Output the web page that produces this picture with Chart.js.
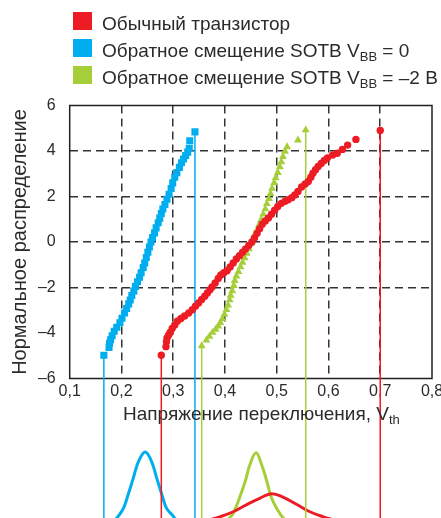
<!DOCTYPE html>
<html lang="ru">
<head>
<meta charset="utf-8">
<title>Нормальное распределение Vth</title>
<script src="https://cdn.jsdelivr.net/npm/chart.js@4.4.0/dist/chart.umd.min.js"></script>
<style>
  html, body { margin: 0; padding: 0; background: #fff; }
  #wrap { position: relative; width: 441px; height: 518px; overflow: hidden;
          font-family: "Liberation Sans", Arial, sans-serif; color: #2b2b2b; }
  canvas { position: absolute; left: 0; top: 0; }
  .sq { position: absolute; left: 73px; width: 19px; height: 18px; }
  .lg { position: absolute; left: 102px; font-size: 19px; line-height: 19px; white-space: nowrap; }
  .sub { font-size: 13px; position: relative; top: 4px; }
  #xtitle { position: absolute; left: 123px; top: 404px; font-size: 19px; line-height: 19px; white-space: nowrap; }
</style>
</head>
<body>
<div id="wrap">
  <canvas id="myChart" width="441" height="518"></canvas>
  <div class="sq" style="top:12px;background:#ed1c24"></div>
  <div class="lg" style="top:14px">Обычный транзистор</div>
  <div class="sq" style="top:39px;background:#00aeef"></div>
  <div class="lg" style="top:41px">Обратное смещение SOTB V<span class="sub">BB</span> = 0</div>
  <div class="sq" style="top:66px;background:#a6ce39"></div>
  <div class="lg" style="top:68px">Обратное смещение SOTB V<span class="sub">BB</span> = –2 В</div>
  <div id="xtitle">Напряжение переключения, V<span class="sub">th</span></div>
</div>
<script>
const RED = "#ed1c24";
const BLUE = "#00aeef";
const GREEN = "#a6ce39";
const INK = "#2b2b2b";

// Обычный транзистор (circles), first and last points are the end markers
const redX = [0.277, 0.286, 0.287, 0.288, 0.291, 0.294, 0.298, 0.303, 0.308, 0.315,
  0.322, 0.330, 0.337, 0.343, 0.349, 0.355, 0.361, 0.366, 0.371, 0.375,
  0.381, 0.387, 0.392, 0.398, 0.404, 0.410, 0.416, 0.422, 0.428, 0.434,
  0.440, 0.446, 0.452, 0.457, 0.462, 0.467, 0.472, 0.478, 0.484, 0.490,
  0.496, 0.502, 0.509, 0.516, 0.522, 0.529, 0.535, 0.541, 0.548, 0.555,
  0.561, 0.566, 0.570, 0.575, 0.580, 0.586, 0.592, 0.598, 0.608, 0.617,
  0.627, 0.637, 0.653, 0.700];
const redY = [-4.98, -4.6, -4.38, -4.22, -4.1, -3.98, -3.8, -3.65, -3.48, -3.36,
  -3.25, -3.12, -2.98, -2.82, -2.68, -2.53, -2.38, -2.24, -2.1, -1.98,
  -1.8, -1.6, -1.45, -1.35, -1.26, -1.1, -0.92, -0.75, -0.6, -0.45,
  -0.3, -0.15, 0.0, 0.18, 0.38, 0.58, 0.78, 0.92, 1.06, 1.22,
  1.4, 1.56, 1.7, 1.79, 1.86, 1.95, 2.07, 2.22, 2.42, 2.55,
  2.66, 2.85, 3.02, 3.18, 3.32, 3.45, 3.58, 3.7, 3.82, 3.9,
  4.07, 4.26, 4.51, 4.9];

// Обратное смещение SOTB VBB = 0 (squares)
const blueX = [0.166, 0.176, 0.177, 0.179, 0.182, 0.186, 0.191, 0.197, 0.201, 0.206,
  0.210, 0.214, 0.217, 0.220, 0.224, 0.227, 0.231, 0.235, 0.238, 0.242,
  0.245, 0.248, 0.251, 0.254, 0.257, 0.260, 0.264, 0.267, 0.271, 0.274,
  0.277, 0.280, 0.284, 0.288, 0.292, 0.296, 0.299, 0.303, 0.307, 0.312,
  0.316, 0.320, 0.324, 0.328, 0.331, 0.332, 0.342];
const blueY = [-4.98, -4.64, -4.45, -4.3, -4.12, -3.92, -3.75, -3.55, -3.35, -3.12,
  -2.92, -2.72, -2.55, -2.35, -2.15, -1.95, -1.75, -1.55, -1.35, -1.12,
  -0.92, -0.68, -0.45, -0.22, 0.0, 0.2, 0.4, 0.62, 0.85, 1.05,
  1.25, 1.45, 1.65, 1.88, 2.1, 2.35, 2.6, 2.85, 3.05, 3.28,
  3.48, 3.65, 3.8, 3.95, 4.12, 4.45, 4.84];

// Обратное смещение SOTB VBB = -2 B (triangles)
const greenX = [0.355, 0.364, 0.370, 0.376, 0.382, 0.387, 0.391, 0.395, 0.399, 0.403,
  0.406, 0.409, 0.411, 0.414, 0.417, 0.419, 0.422, 0.426, 0.430, 0.434,
  0.438, 0.442, 0.446, 0.450, 0.454, 0.458, 0.462, 0.466, 0.470, 0.474,
  0.478, 0.481, 0.485, 0.488, 0.491, 0.495, 0.498, 0.502, 0.506, 0.509,
  0.512, 0.516, 0.520, 0.541, 0.556];
const greenY = [-4.57, -4.32, -4.15, -3.98, -3.84, -3.7, -3.55, -3.38, -3.18, -2.98,
  -2.78, -2.55, -2.35, -2.15, -1.92, -1.7, -1.5, -1.3, -1.1, -0.9,
  -0.7, -0.5, -0.3, -0.08, 0.14, 0.34, 0.55, 0.76, 0.98, 1.22,
  1.45, 1.68, 1.9, 2.12, 2.35, 2.6, 2.82, 3.05, 3.3, 3.52,
  3.75, 3.98, 4.18, 4.48, 4.92];

// distribution curves under the axis (relative density, blue peak = 1)
const bluePdfX = [0.184, 0.194, 0.204, 0.213, 0.223, 0.233, 0.246, 0.258, 0.268, 0.278, 0.287, 0.300, 0.307];
const bluePdfY = [0.03, 0.11, 0.22, 0.41, 0.64, 0.87, 1.0, 0.87, 0.64, 0.41, 0.22, 0.11, 0.03];
const greenPdfX = [0.406, 0.416, 0.428, 0.439, 0.448, 0.460, 0.471, 0.481, 0.490, 0.503, 0.513, 0.522];
const greenPdfY = [0.06, 0.15, 0.36, 0.59, 0.82, 0.99, 0.82, 0.59, 0.36, 0.18, 0.08, 0.03];
const redPdfX = [0.361, 0.390, 0.416, 0.442, 0.468, 0.490, 0.513, 0.539, 0.564, 0.590, 0.618];
const redPdfY = [0.04, 0.10, 0.17, 0.27, 0.36, 0.42, 0.37, 0.27, 0.17, 0.10, 0.04];

const xTickLabels = ["0,1", "0,2", "0,3", "0,4", "0,5", "0,6", "0,7", "0,8"];
const yTickLabels = ["–6", "–4", "–2", "0", "2", "4", "6"];
const yGridAt = [-2, 0, 2, 4];
const lineBottom = -13; // vertical marker lines run down past the axis

function pts(xs, ys) {
  return xs.map((x, i) => ({ x: x, y: ys[i] }));
}

function dropLine(xs, ys, idx, color) {
  return {
    data: [{ x: xs[idx], y: ys[idx] }, { x: xs[idx], y: lineBottom }],
    showLine: true,
    borderColor: color,
    borderWidth: 1.5,
    pointRadius: 0,
    clip: false,
    order: 3,
  };
}

function pdfLine(xs, ys, color, order) {
  return {
    data: pts(xs, ys),
    yAxisID: "y2",
    showLine: true,
    borderColor: color,
    borderWidth: 3,
    pointRadius: 0,
    tension: 0.4,
    clip: false,
    order: order,
  };
}

// box around the plot area
const framePlugin = {
  id: "frame",
  beforeDatasetsDraw(chart) {
    const { ctx, chartArea: a } = chart;
    ctx.save();
    ctx.strokeStyle = "#231f20";
    ctx.lineWidth = 1.5;
    ctx.strokeRect(a.left, a.top, a.right - a.left, a.bottom - a.top);
    ctx.restore();
  },
};

const ctx = document.getElementById("myChart").getContext("2d");
const vthChart = new Chart(ctx, {
  type: "scatter",
  data: {
    datasets: [
      {
        data: pts(redX, redY),
        pointStyle: "circle",
        pointRadius: 3.7,
        backgroundColor: RED,
        borderWidth: 0,
        order: 0,
      },
      {
        data: pts(greenX, greenY),
        pointStyle: "triangle",
        pointRadius: 4.6,
        backgroundColor: GREEN,
        borderWidth: 0,
        order: 1,
      },
      {
        data: pts(blueX, blueY),
        pointStyle: "rect",
        pointRadius: 5,
        backgroundColor: BLUE,
        borderWidth: 0,
        order: 1,
      },
      dropLine(redX, redY, 0, RED),
      dropLine(redX, redY, redX.length - 1, RED),
      dropLine(blueX, blueY, 0, BLUE),
      dropLine(blueX, blueY, blueX.length - 1, BLUE),
      dropLine(greenX, greenY, 0, GREEN),
      dropLine(greenX, greenY, greenX.length - 1, GREEN),
      pdfLine(redPdfX, redPdfY, RED, 4),
      pdfLine(greenPdfX, greenPdfY, GREEN, 5),
      pdfLine(bluePdfX, bluePdfY, BLUE, 5),
    ],
  },
  options: {
    responsive: false,
    animation: false,
    layout: { padding: { top: 105.5, right: 9, left: 0, bottom: 0 } },
    plugins: { legend: { display: false }, tooltip: { enabled: false } },
    scales: {
      x: {
        type: "linear",
        min: 0.1,
        max: 0.8,
        afterFit(scale) {
          scale.height = 139.5;
          scale.paddingLeft = 0;
          scale.paddingRight = 0;
        },
        ticks: {
          stepSize: 0.1,
          padding: 3,
          color: INK,
          font: { family: "Liberation Sans", size: 16 },
          callback: (v) => xTickLabels[Math.round(v * 10) - 1],
        },
        grid: {
          drawTicks: false,
          lineWidth: 1.5,
          color: (c) => {
            const k = Math.round(c.tick.value * 10);
            return k > 1 && k < 8 ? "#333" : "transparent";
          },
        },
        border: { display: false, dash: [8, 5] },
      },
      y: {
        min: -6,
        max: 6,
        afterFit(scale) {
          scale.width = 69.7;
          scale.paddingTop = 0;
          scale.paddingBottom = 0;
        },
        ticks: {
          stepSize: 2,
          padding: 14,
          color: INK,
          font: { family: "Liberation Sans", size: 16 },
          callback: (v) => yTickLabels[Math.round((v + 6) / 2)],
        },
        grid: {
          drawTicks: false,
          lineWidth: 1.5,
          color: (c) => (yGridAt.includes(Math.round(c.tick.value)) ? "#333" : "transparent"),
        },
        border: { display: false, dash: [8, 5] },
        title: {
          display: true,
          text: "Нормальное распределение",
          color: INK,
          font: { family: "Liberation Sans", size: 20 },
          padding: { top: 8, bottom: 0 },
        },
      },
      // hidden scale for the density curves drawn below the axis
      y2: {
        display: false,
        min: 2.02,
        max: 5.81,
      },
    },
  },
  plugins: [framePlugin],
});
</script>
</body>
</html>
